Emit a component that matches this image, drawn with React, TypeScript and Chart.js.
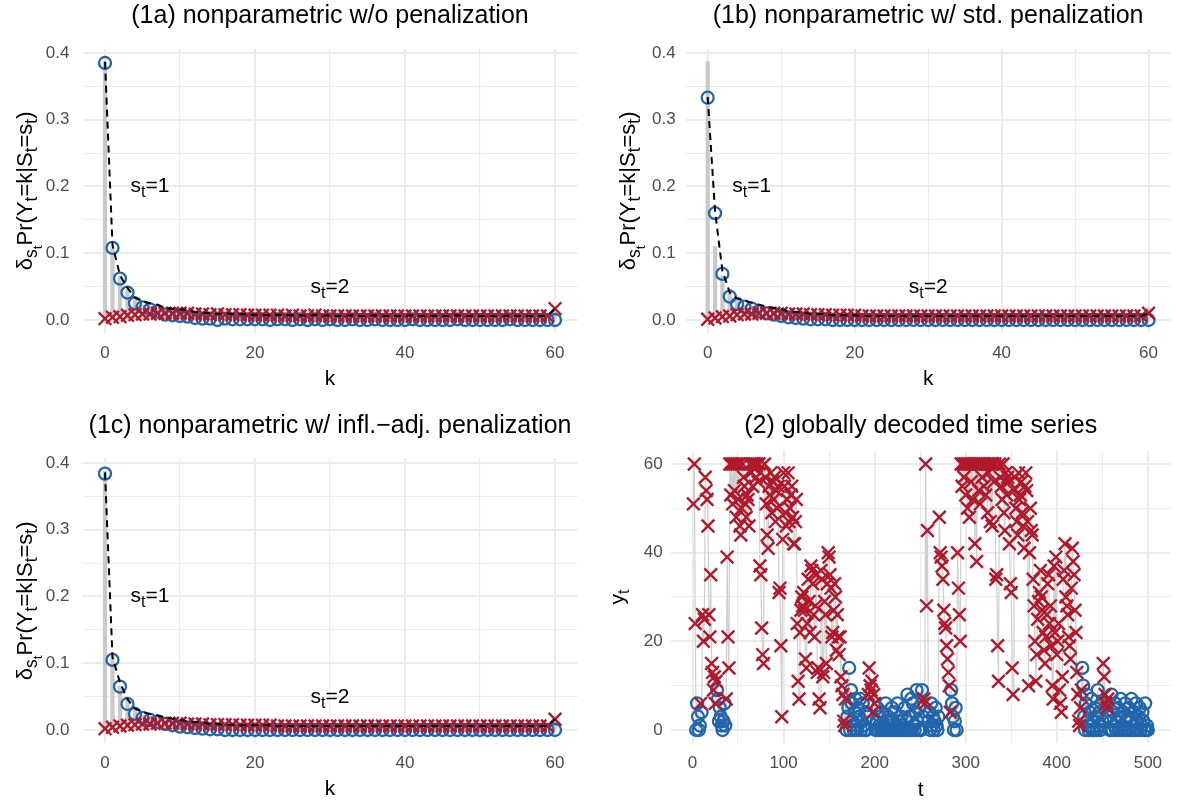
import React, { useEffect, useRef } from "react";
import { Chart, registerables } from "chart.js";

Chart.register(...registerables);

const FONT = '"Liberation Sans", Arial, Helvetica, sans-serif';
const BLUE = "#2166AC";
const RED = "#B2182B";
const GRID = "#EBEBEB";
const TICK_COLOR = "#4D4D4D";
const BAR_GRAY = "#C9C9C9";
const SERIES_GRAY = "#CFCFCF";

// ---------- panel (1): categories k = 0..60 ----------
const kValues: number[] = Array.from({ length: 61 }, (_, i) => i);

// empirical relative frequencies (grey bars)
const empiricalFreq: number[] = [
  0.387, 0.110, 0.066, 0.046, 0.030, 0.022, 0.020, 0.016, 0.014, 0.012,
  0.012, 0.010, 0.008, 0.010, 0.008, 0.008, 0.006, 0.008, 0.008, 0.010,
  0.006, 0.008, 0.008, 0.006, 0.008, 0.006, 0.010, 0.006, 0.006, 0.008,
  0.006, 0.008, 0.006, 0.008, 0.006, 0.004, 0.008, 0.006, 0.006, 0.004,
  0.006, 0.006, 0.004, 0.006, 0.008, 0.006, 0.006, 0.004, 0.006, 0.006,
  0.004, 0.006, 0.006, 0.004, 0.006, 0.006, 0.004, 0.006, 0.004, 0.006,
  0.018,
];

// (1a) w/o penalization
const state1Pmf1a: number[] = [
  0.385, 0.108, 0.062, 0.041, 0.025, 0.019, 0.016, 0.013, 0.008, 0.007,
  0.006, 0.005, 0.003, 0.002, 0.002, 0.000, 0.002, 0.001, 0.001, 0.001,
  0.001, 0.001, 0.000, 0.001, 0.001, 0.000, 0.001, 0.000, 0.001, 0.000,
  0.001, 0.000, 0.000, 0.001, 0.000, 0.000, 0.001, 0.000, 0.000, 0.000,
  0.000, 0.001, 0.000, 0.000, 0.000, 0.000, 0.000, 0.001, 0.000, 0.000,
  0.000, 0.000, 0.000, 0.000, 0.001, 0.000, 0.000, 0.000, 0.000, 0.000,
  0.000,
];
const state2Pmf1a: number[] = [
  0.002, 0.004, 0.005, 0.007, 0.008, 0.009, 0.009, 0.010, 0.010, 0.010,
  0.010, 0.010, 0.009, 0.009, 0.008, 0.009, 0.008, 0.008, 0.008, 0.007,
  0.007, 0.007, 0.007, 0.007, 0.006, 0.007, 0.006, 0.006, 0.007, 0.006,
  0.006, 0.006, 0.006, 0.006, 0.006, 0.006, 0.006, 0.006, 0.006, 0.006,
  0.006, 0.006, 0.006, 0.006, 0.006, 0.006, 0.006, 0.006, 0.006, 0.006,
  0.006, 0.006, 0.006, 0.006, 0.006, 0.006, 0.006, 0.006, 0.006, 0.006,
  0.017,
];

// (1b) w/ std. penalization
const state1Pmf1b: number[] = [
  0.333, 0.160, 0.069, 0.035, 0.024, 0.020, 0.017, 0.013, 0.010, 0.008,
  0.006, 0.004, 0.003, 0.002, 0.001, 0.001, 0.001, 0.000, 0.000, 0.000,
  0.000, 0.000, 0.000, 0.000, 0.000, 0.000, 0.000, 0.000, 0.000, 0.000,
  0.000, 0.000, 0.000, 0.000, 0.000, 0.000, 0.000, 0.000, 0.000, 0.000,
  0.000, 0.000, 0.000, 0.000, 0.000, 0.000, 0.000, 0.000, 0.000, 0.000,
  0.000, 0.000, 0.000, 0.000, 0.000, 0.000, 0.000, 0.000, 0.000, 0.000,
  0.000,
];
const state2Pmf1b: number[] = [
  0.001, 0.003, 0.005, 0.006, 0.008, 0.009, 0.009, 0.010, 0.010, 0.010,
  0.010, 0.009, 0.009, 0.009, 0.008, 0.008, 0.008, 0.007, 0.007, 0.007,
  0.007, 0.006, 0.006, 0.006, 0.006, 0.006, 0.006, 0.006, 0.006, 0.006,
  0.006, 0.006, 0.006, 0.006, 0.006, 0.006, 0.006, 0.006, 0.006, 0.006,
  0.006, 0.006, 0.006, 0.006, 0.006, 0.006, 0.006, 0.006, 0.006, 0.006,
  0.006, 0.006, 0.006, 0.006, 0.006, 0.006, 0.006, 0.006, 0.006, 0.006,
  0.010,
];

// (1c) w/ infl.-adj. penalization
const state1Pmf1c: number[] = [
  0.384, 0.105, 0.065, 0.039, 0.024, 0.018, 0.015, 0.012, 0.009, 0.007,
  0.005, 0.004, 0.003, 0.002, 0.001, 0.001, 0.000, 0.000, 0.000, 0.000,
  0.000, 0.000, 0.000, 0.000, 0.000, 0.000, 0.000, 0.000, 0.000, 0.000,
  0.000, 0.000, 0.000, 0.000, 0.000, 0.000, 0.000, 0.000, 0.000, 0.000,
  0.000, 0.000, 0.000, 0.000, 0.000, 0.000, 0.000, 0.000, 0.000, 0.000,
  0.000, 0.000, 0.000, 0.000, 0.000, 0.000, 0.000, 0.000, 0.000, 0.000,
  0.000,
];
const state2Pmf1c: number[] = [
  0.002, 0.004, 0.006, 0.007, 0.008, 0.009, 0.009, 0.010, 0.010, 0.010,
  0.010, 0.009, 0.009, 0.009, 0.008, 0.008, 0.008, 0.008, 0.007, 0.007,
  0.007, 0.007, 0.007, 0.006, 0.006, 0.006, 0.006, 0.006, 0.006, 0.006,
  0.006, 0.006, 0.006, 0.006, 0.006, 0.006, 0.006, 0.006, 0.006, 0.006,
  0.006, 0.006, 0.006, 0.006, 0.006, 0.006, 0.006, 0.006, 0.006, 0.006,
  0.006, 0.006, 0.006, 0.006, 0.006, 0.006, 0.006, 0.006, 0.006, 0.006,
  0.016,
];

// ---------- panel (2): time series t = 1..500 ----------
const tValues: number[] = Array.from({ length: 500 }, (_, i) => i + 1);

const observedY: number[] = [
  51, 60, 24, 0, 6, 3, 0, 1, 6, 4,
  26, 20, 25, 57, 54, 52, 46, 26, 21, 35,
  15, 13, 9, 12, 6, 11, 9, 7, 2, 5,
  3, 1, 0, 2, 6, 1, 7, 39, 21, 14,
  60, 53, 60, 51, 60, 54, 60, 48, 60, 52,
  60, 46, 44, 50, 60, 57, 55, 51, 48, 53,
  52, 46, 60, 58, 60, 55, 60, 59, 60, 57,
  60, 56, 60, 37, 35, 23, 17, 15, 60, 57,
  51, 44, 41, 55, 53, 58, 49, 56, 52, 57,
  47, 54, 50, 55, 31, 32, 19, 3, 43, 58,
  55, 49, 46, 52, 58, 47, 50, 53, 55, 48,
  42, 42, 47, 52, 24, 11, 7, 22, 27, 30,
  28, 31, 27, 16, 14, 24, 34, 29, 22, 37,
  36, 33, 26, 21, 28, 35, 13, 14, 7, 5,
  36, 34, 12, 13, 29, 26, 15, 33, 40, 39,
  35, 32, 21, 22, 27, 33, 30, 18, 26, 21,
  17, 21, 12, 10, 8, 2, 1, 7, 0, 3,
  5, 14, 0, 9, 6, 2, 0, 4, 7, 1,
  0, 5, 3, 7, 0, 2, 6, 1, 0, 4,
  0, 3, 8, 14, 10, 9, 11, 4, 8, 6,
  0, 2, 5, 0, 1, 3, 0, 4, 0, 1,
  0, 6, 2, 0, 3, 0, 1, 0, 5, 2,
  0, 4, 0, 1, 6, 0, 2, 0, 3, 0,
  1, 0, 5, 0, 2, 8, 0, 3, 0, 7,
  0, 6, 1, 0, 4, 9, 2, 0, 5, 0,
  0, 9, 3, 7, 6, 60, 28, 45, 2, 4,
  0, 6, 1, 3, 0, 2, 5, 1, 0, 3,
  48, 40, 39, 37, 34, 27, 24, 23, 19, 16,
  13, 10, 4, 9, 6, 3, 0, 2, 5, 0,
  40, 32, 26, 20, 60, 55, 60, 57, 60, 53,
  60, 50, 60, 48, 60, 56, 60, 52, 60, 42,
  60, 38, 60, 54, 60, 51, 60, 57, 60, 55,
  60, 53, 60, 49, 58, 60, 47, 60, 46, 60,
  56, 60, 34, 35, 19, 11, 60, 57, 55, 52,
  60, 49, 45, 58, 53, 57, 56, 42, 33, 31,
  14, 8, 54, 57, 50, 47, 44, 58, 52, 53,
  56, 49, 46, 41, 55, 58, 54, 47, 10, 40,
  50, 45, 44, 34, 28, 20, 11, 17, 25, 29,
  31, 36, 30, 27, 22, 18, 15, 21, 26, 33,
  35, 24, 28, 19, 10, 7, 37, 22, 39, 17,
  20, 24, 9, 6, 4, 12, 34, 36, 42, 30,
  28, 26, 21, 19, 16, 32, 41, 38, 35, 27,
  22, 13, 8, 2, 1, 5, 9, 14, 10, 3,
  0, 6, 8, 2, 0, 4, 1, 7, 0, 2,
  0, 5, 3, 0, 9, 1, 4, 0, 6, 2,
  15, 12, 8, 6, 5, 7, 3, 0, 2, 8,
  0, 4, 1, 6, 0, 2, 5, 0, 3, 7,
  0, 1, 4, 0, 6, 2, 0, 3, 5, 0,
  2, 7, 0, 1, 4, 0, 6, 2, 0, 3,
  5, 0, 1, 4, 2, 0, 6, 0, 1, 0,
];

// globally decoded states (Viterbi), one character per time point
const decodedStateBlocks: string[] = [
  "2221111121", "2222222222", "2222221111", "1111112222",
  "2222222222", "2222222222", "2222222222", "2222222222",
  "2222222222", "2222222222", "2222222222", "2222222222",
  "2222222222", "2222222222", "2222222222", "2222222222",
  "2222222211", "1111111111", "1111111111", "1122222222",
  "1111111111", "1111111111", "1111111111", "1111111111",
  "1111111111", "1112222211", "1111111111", "2222222222",
  "2221111111", "2222222222", "2222222222", "2222222222",
  "2222222222", "2222222222", "2222222222", "2222222222",
  "2222222222", "2222222222", "2222222222", "2222222222",
  "2222222222", "2222222222", "2222222111", "1111111111",
  "1111111111", "2222221111", "1111111111", "1111111111",
  "1111111111", "1111111111",
];
const decodedState: number[] = decodedStateBlocks.join("").split("").map(Number);

// ---------- tick definitions ----------
const kTicksAll = [0, 10, 20, 30, 40, 50, 60];
const kTicksMajor = [0, 20, 40, 60];
const pmfTicksAll = [0, 0.05, 0.1, 0.15, 0.2, 0.25, 0.3, 0.35, 0.4];
const pmfTicksMajor = [0, 0.1, 0.2, 0.3, 0.4];
const tTicksAll = [0, 50, 100, 150, 200, 250, 300, 350, 400, 450, 500];
const tTicksMajor = [0, 100, 200, 300, 400, 500];
const yTicksAll = [0, 10, 20, 30, 40, 50, 60];
const yTicksMajor = [0, 20, 40, 60];

// ---------- rich text ----------
type Seg = { t: string; s: number; dy: number };
const MAIN = 21;
const mainT = (t: string): Seg => ({ t, s: MAIN, dy: 0 });
const subT = (t: string): Seg => ({ t, s: 16, dy: 5 });
const yMain = (t: string): Seg => ({ t, s: 22, dy: 0 });
const ySub = (t: string): Seg => ({ t, s: 17.5, dy: 5.5 });
const ySubSub = (t: string): Seg => ({ t, s: 13.5, dy: 10 });

function richWidth(ctx: CanvasRenderingContext2D, segs: Seg[]) {
  let w = 0;
  for (const g of segs) {
    ctx.font = `${g.s}px ${FONT}`;
    w += ctx.measureText(g.t).width;
  }
  return w;
}
function drawRich(ctx: CanvasRenderingContext2D, segs: Seg[], x: number, y: number) {
  const w = richWidth(ctx, segs);
  let cx = x - w / 2;
  ctx.textAlign = "left";
  ctx.textBaseline = "alphabetic";
  for (const g of segs) {
    ctx.font = `${g.s}px ${FONT}`;
    ctx.fillText(g.t, cx, y + g.dy);
    cx += ctx.measureText(g.t).width;
  }
}

const pmfYLabel: Seg[] = [
  yMain("δ"), ySub("s"), ySubSub("t"), yMain("Pr(Y"), ySub("t"),
  yMain("=k|S"), ySub("t"), yMain("=s"), ySub("t"), yMain(")"),
];
const annot1: Seg[] = [mainT("s"), subT("t"), mainT("=1")];
const annot2: Seg[] = [mainT("s"), subT("t"), mainT("=2")];

// ---------- panel specs ----------
type AxisSpec = { min: number; max: number; all: number[]; major: number[]; fmt: (v: number) => string; pad: number };
type PanelSpec = {
  box: [number, number, number, number];
  area: [number, number, number, number];
  title: string;
  xTitle: Seg[];
  yTitle: Seg[];
  yTitleOffset: number;
  x: AxisSpec;
  y: AxisSpec;
  annotations: { x: number; y: number; segs: Seg[] }[];
  datasets: any[];
};

const CROSS_R = 9;
const CROSS_W = 2.4;
const CIRCLE_R = 6;
const CIRCLE_W = 2.3;

function pmfDatasets(state1: number[], state2: number[]) {
  return [
    {
      type: "line",
      data: kValues.map((k, i) => ({ x: k, y: state1[i] + state2[i] })),
      borderColor: "#000000",
      borderWidth: 2,
      borderDash: [7, 5],
      pointRadius: 0,
      fill: false,
      tension: 0,
      order: 1,
    },
    {
      type: "scatter",
      data: kValues.map((k, i) => ({ x: k, y: state2[i] })),
      pointStyle: "crossRot",
      pointRadius: CROSS_R,
      pointBorderWidth: CROSS_W,
      pointBorderColor: RED,
      pointBackgroundColor: RED,
      order: 2,
    },
    {
      type: "scatter",
      data: kValues.map((k, i) => ({ x: k, y: state1[i] })),
      pointStyle: "circle",
      pointRadius: CIRCLE_R,
      pointBorderWidth: CIRCLE_W,
      pointBorderColor: BLUE,
      pointBackgroundColor: "rgba(0,0,0,0)",
      order: 3,
    },
    {
      type: "bar",
      data: kValues.map((k, i) => ({ x: k, y: empiricalFreq[i] })),
      backgroundColor: BAR_GRAY,
      barThickness: 3.5,
      order: 4,
    },
  ];
}

function seriesDatasets() {
  return [
    {
      type: "scatter",
      data: tValues.map((t, i) => ({ x: t, y: observedY[i] })).filter((_, i) => decodedState[i] === 2),
      pointStyle: "crossRot",
      pointRadius: CROSS_R,
      pointBorderWidth: CROSS_W,
      pointBorderColor: RED,
      pointBackgroundColor: RED,
      order: 1,
    },
    {
      type: "scatter",
      data: tValues.map((t, i) => ({ x: t, y: observedY[i] })).filter((_, i) => decodedState[i] === 1),
      pointStyle: "circle",
      pointRadius: CIRCLE_R,
      pointBorderWidth: CIRCLE_W,
      pointBorderColor: BLUE,
      pointBackgroundColor: "rgba(0,0,0,0)",
      order: 2,
    },
    {
      type: "line",
      data: tValues.map((t, i) => ({ x: t, y: observedY[i] })),
      borderColor: SERIES_GRAY,
      borderWidth: 1.2,
      pointRadius: 0,
      fill: false,
      tension: 0,
      order: 3,
    },
  ];
}

const kAxis = (pad: number): AxisSpec => ({ min: -3, max: 63, all: kTicksAll, major: kTicksMajor, fmt: (v) => String(v), pad });
const pmfAxis = (pad: number): AxisSpec => ({ min: -0.01935, max: 0.40635, all: pmfTicksAll, major: pmfTicksMajor, fmt: (v) => v.toFixed(1), pad });

const PANELS: PanelSpec[] = [
  {
    box: [0, 0, 591, 410],
    area: [82.5, 48.76, 577.5, 332.9],
    title: "(1a) nonparametric w/o penalization",
    xTitle: [mainT("k")],
    yTitle: pmfYLabel,
    yTitleOffset: 51,
    x: kAxis(10),
    y: pmfAxis(13),
    annotations: [{ x: 6, y: 0.2, segs: annot1 }, { x: 30, y: 0.05, segs: annot2 }],
    datasets: pmfDatasets(state1Pmf1a, state2Pmf1a),
  },
  {
    box: [591, 0, 591, 410],
    area: [94.65, 48.76, 586.35, 332.9],
    title: "(1b) nonparametric w/ std. penalization",
    xTitle: [mainT("k")],
    yTitle: pmfYLabel,
    yTitleOffset: 51,
    x: kAxis(10),
    y: pmfAxis(10),
    annotations: [{ x: 6, y: 0.2, segs: annot1 }, { x: 30, y: 0.05, segs: annot2 }],
    datasets: pmfDatasets(state1Pmf1b, state2Pmf1b),
  },
  {
    box: [0, 410, 591, 391],
    area: [82.5, 48.76, 577.5, 332.9],
    title: "(1c) nonparametric w/ infl.\u2212adj. penalization",
    xTitle: [mainT("k")],
    yTitle: pmfYLabel,
    yTitleOffset: 51,
    x: kAxis(10),
    y: pmfAxis(13),
    annotations: [{ x: 6, y: 0.2, segs: annot1 }, { x: 30, y: 0.05, segs: annot2 }],
    datasets: pmfDatasets(state1Pmf1c, state2Pmf1c),
  },
  {
    box: [591, 410, 591, 391],
    area: [79.7, 40.7, 589, 333.3],
    title: "(2) globally decoded time series",
    xTitle: [mainT("t")],
    yTitle: [mainT("y"), subT("t")],
    yTitleOffset: 46.5,
    x: { min: -23.95, max: 524.95, all: tTicksAll, major: tTicksMajor, fmt: (v) => String(v), pad: 9.5 },
    y: { min: -3, max: 63, all: yTicksAll, major: yTicksMajor, fmt: (v) => String(v), pad: 8 },
    annotations: [],
    datasets: seriesDatasets(),
  },
];

function axisOptions(ax: AxisSpec, dir: "x" | "y", size: number) {
  const isMajor = (v: number) => ax.major.some((m) => Math.abs(m - v) < 1e-9);
  return {
    type: "linear",
    min: ax.min,
    max: ax.max,
    offset: false,
    afterBuildTicks: (s: any) => {
      s.ticks = ax.all.map((v) => ({ value: v }));
    },
    afterFit: (s: any) => {
      if (dir === "x") s.height = size;
      else s.width = size;
    },
    ticks: {
      autoSkip: false,
      maxRotation: 0,
      minRotation: 0,
      padding: ax.pad,
      color: TICK_COLOR,
      font: { family: FONT, size: 17 },
      callback: (v: number) => (isMajor(v) ? ax.fmt(v) : ""),
    },
    grid: {
      color: GRID,
      lineWidth: (ctx: any) => (ctx.tick && isMajor(ctx.tick.value) ? 2 : 1.1),
      drawTicks: false,
      offset: false,
    },
    border: { display: false },
  };
}

function textPlugin(p: PanelSpec) {
  return {
    id: "panelTexts",
    afterDraw(chart: any) {
      const ctx: CanvasRenderingContext2D = chart.ctx;
      const a = chart.chartArea;
      const cx = (a.left + a.right) / 2;
      ctx.save();
      ctx.fillStyle = "#000000";
      ctx.textAlign = "left";
      ctx.textBaseline = "alphabetic";
      ctx.font = `25px ${FONT}`;
      const tw = ctx.measureText(p.title).width;
      ctx.fillText(p.title, cx - tw / 2, 23);
      drawRich(ctx, p.xTitle, cx, a.bottom + 52.5);
      for (const an of p.annotations) {
        const px = chart.scales.x.getPixelForValue(an.x);
        const py = chart.scales.y.getPixelForValue(an.y);
        drawRich(ctx, an.segs, px, py + 6);
      }
      ctx.translate(a.left - p.yTitleOffset, (a.top + a.bottom) / 2);
      ctx.rotate(-Math.PI / 2);
      drawRich(ctx, p.yTitle, 0, 0);
      ctx.restore();
    },
  };
}

function buildConfig(p: PanelSpec): any {
  const [, , bw, bh] = p.box;
  const [al, at, ar, ab] = p.area;
  return {
    type: "scatter",
    data: { datasets: p.datasets },
    options: {
      responsive: false,
      maintainAspectRatio: false,
      animation: false,
      devicePixelRatio: 1,
      events: [],
      layout: { padding: { left: 0, top: at, right: bw - ar, bottom: 0 } },
      plugins: {
        legend: { display: false },
        tooltip: { enabled: false },
        title: { display: false },
      },
      scales: {
        x: axisOptions(p.x, "x", bh - ab),
        y: axisOptions(p.y, "y", al),
      },
    },
    plugins: [textPlugin(p)],
  };
}

function Panel({ spec }: { spec: PanelSpec }) {
  const ref = useRef<HTMLCanvasElement>(null);
  useEffect(() => {
    if (!ref.current) return;
    const chart = new Chart(ref.current, buildConfig(spec));
    return () => chart.destroy();
  }, [spec]);
  const [l, t, w, h] = spec.box;
  return (
    <canvas
      ref={ref}
      width={w}
      height={h}
      style={{ position: "absolute", left: l, top: t, width: w, height: h }}
    />
  );
}

export default function App() {
  return (
    <div
      style={{
        position: "absolute",
        left: 0,
        top: 0,
        width: 1182,
        height: 801,
        background: "#ffffff",
        overflow: "hidden",
      }}
    >
      {PANELS.map((p, i) => (
        <Panel key={i} spec={p} />
      ))}
    </div>
  );
}
